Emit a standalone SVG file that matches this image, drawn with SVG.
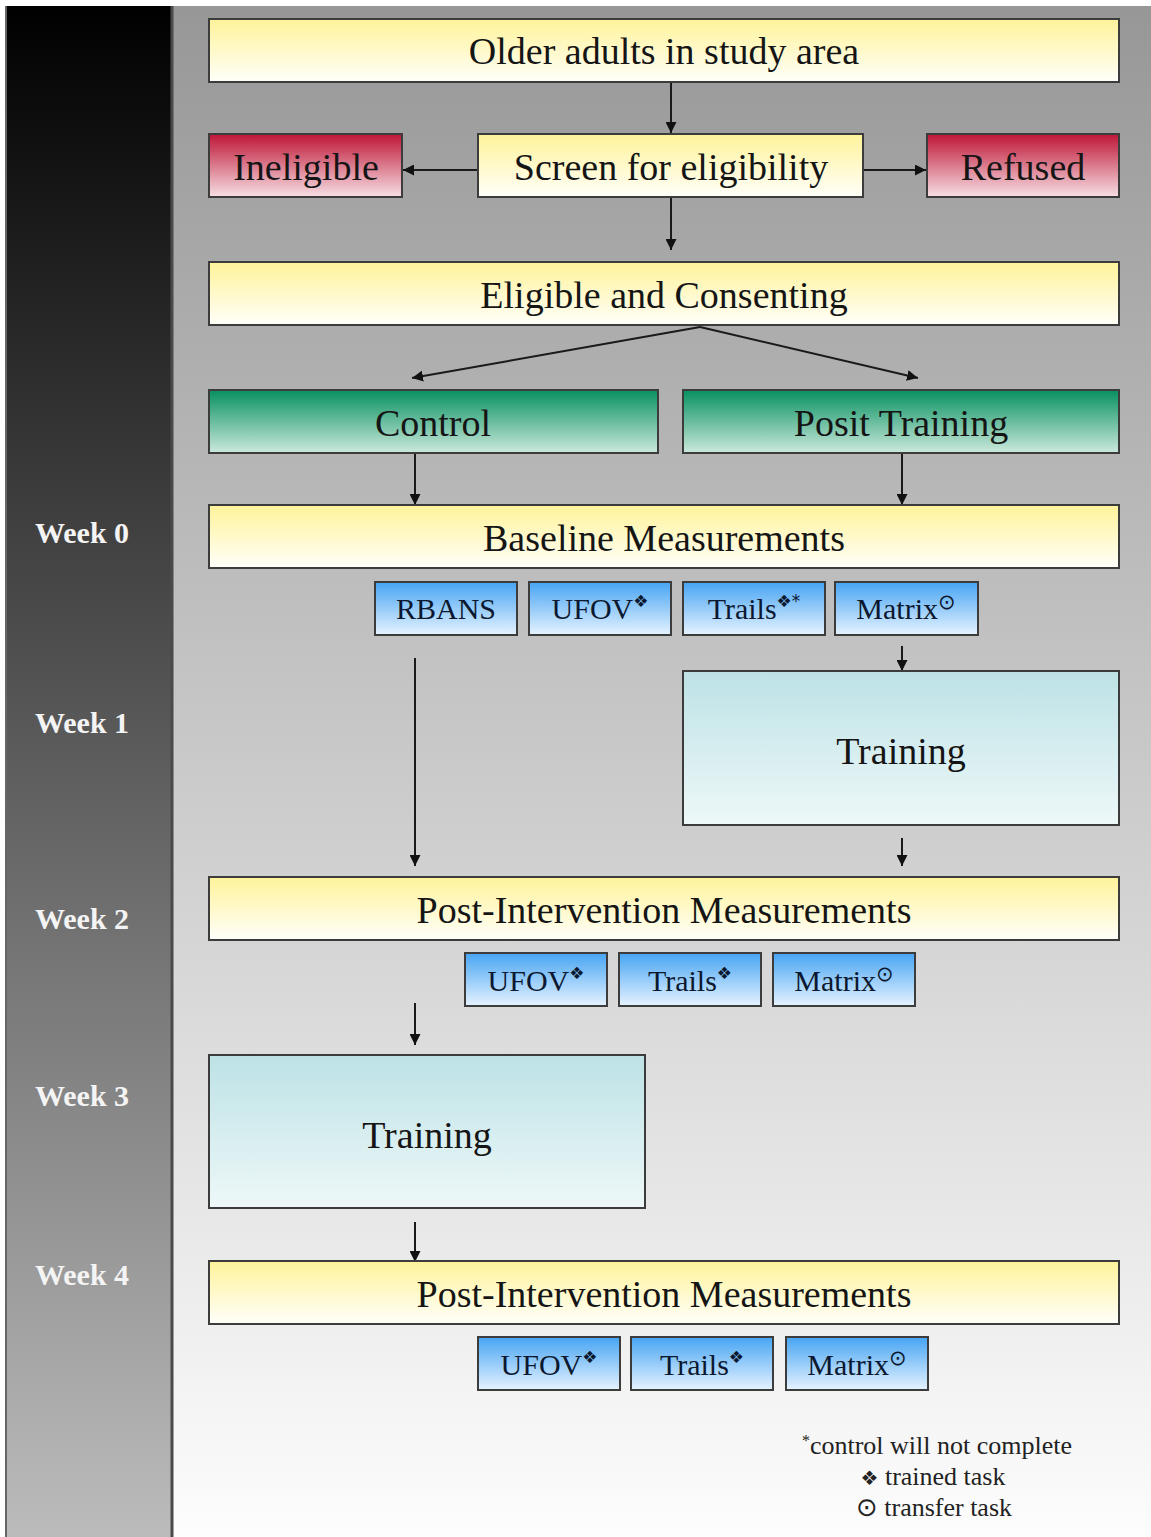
<svg xmlns="http://www.w3.org/2000/svg" width="1151" height="1537" viewBox="0 0 1151 1537">
<defs>
<linearGradient id="gLeft" x1="0" y1="0" x2="0" y2="1"><stop offset="0" stop-color="#000"/><stop offset="1" stop-color="#bcbcbc"/></linearGradient>
<linearGradient id="gRight" x1="0" y1="0" x2="0" y2="1"><stop offset="0" stop-color="#979797"/><stop offset="1" stop-color="#fdfdfd"/></linearGradient>
<linearGradient id="gY" x1="0" y1="0" x2="0" y2="1"><stop offset="0" stop-color="#fff39a"/><stop offset="1" stop-color="#fffffa"/></linearGradient>
<linearGradient id="gR" x1="0" y1="0" x2="0" y2="1"><stop offset="0" stop-color="#be1536"/><stop offset="1" stop-color="#f7dfe4"/></linearGradient>
<linearGradient id="gG" x1="0" y1="0" x2="0" y2="1"><stop offset="0" stop-color="#079160"/><stop offset="1" stop-color="#cbe9dc"/></linearGradient>
<linearGradient id="gB" x1="0" y1="0" x2="0" y2="1"><stop offset="0" stop-color="#46a4f3"/><stop offset="1" stop-color="#e6f3ff"/></linearGradient>
<linearGradient id="gT" x1="0" y1="0" x2="0" y2="1"><stop offset="0" stop-color="#bde2e6"/><stop offset="1" stop-color="#eef8f8"/></linearGradient>
<marker id="ah" viewBox="0 0 10 10" refX="10" refY="5" markerWidth="11" markerHeight="11" markerUnits="userSpaceOnUse" orient="auto"><path d="M0,0 L10,5 L0,10 z" fill="#111"/></marker>
</defs>
<style>
.box{stroke:#3c3c3c;stroke-width:2}
.t{font-family:"Liberation Serif","Times New Roman",serif;font-size:38px;fill:#151515;text-anchor:middle}
.tb{font-family:"Liberation Serif","Times New Roman",serif;font-size:30px;fill:#0c1830;text-anchor:middle}
.sup{font-family:"DejaVu Sans",sans-serif;font-size:17px}
.sc{font-family:"DejaVu Sans",sans-serif;font-size:21px}
.wk{font-family:"Liberation Serif","Times New Roman",serif;font-size:30px;font-weight:bold;fill:#f4f4f4;text-anchor:middle}
.lg{font-family:"Liberation Serif","Times New Roman",serif;font-size:26px;fill:#222;text-anchor:middle}
.c{stroke:#1a1a1a;stroke-width:2;fill:none;marker-end:url(#ah)}
</style>
<rect x="0" y="0" width="1151" height="1537" fill="#fff"/>
<rect x="5" y="6" width="168" height="1531" fill="url(#gLeft)"/>
<rect x="173" y="6" width="978" height="1531" fill="url(#gRight)"/>
<line x1="172" y1="6" x2="172" y2="1537" stroke="#4a4a4a" stroke-width="3"/>
<line x1="6" y1="6" x2="6" y2="1537" stroke="#666" stroke-width="2"/>

<g id="weeks">
<text class="wk" x="82" y="543">Week 0</text>
<text class="wk" x="82" y="733">Week 1</text>
<text class="wk" x="82" y="929">Week 2</text>
<text class="wk" x="82" y="1106">Week 3</text>
<text class="wk" x="82" y="1285">Week 4</text>
</g>

<g id="connectors">
<line class="c" x1="671" y1="83" x2="671" y2="133"/>
<line class="c" x1="478" y1="170" x2="403" y2="170"/>
<line class="c" x1="863" y1="170" x2="926" y2="170"/>
<line class="c" x1="671" y1="198" x2="671" y2="250"/>
<line class="c" x1="700" y1="327" x2="412" y2="378"/>
<line class="c" x1="700" y1="327" x2="918" y2="378"/>
<line class="c" x1="415" y1="454" x2="415" y2="505"/>
<line class="c" x1="902" y1="454" x2="902" y2="505"/>
<line class="c" x1="415" y1="658" x2="415" y2="866"/>
<line class="c" x1="902" y1="646" x2="902" y2="671"/>
<line class="c" x1="902" y1="838" x2="902" y2="866"/>
<line class="c" x1="415" y1="1003" x2="415" y2="1045"/>
<line class="c" x1="415" y1="1222" x2="415" y2="1262"/>
</g>

<g id="n-older"><rect class="box" x="209" y="19" width="910" height="63" fill="url(#gY)"/><text class="t" x="664" y="64">Older adults in study area</text></g>
<g id="n-ineligible"><rect class="box" x="209" y="134" width="193" height="63" fill="url(#gR)"/><text class="t" x="306" y="180">Ineligible</text></g>
<g id="n-screen"><rect class="box" x="478" y="134" width="385" height="63" fill="url(#gY)"/><text class="t" x="671" y="180">Screen for eligibility</text></g>
<g id="n-refused"><rect class="box" x="927" y="134" width="192" height="63" fill="url(#gR)"/><text class="t" x="1023" y="180">Refused</text></g>
<g id="n-eligible"><rect class="box" x="209" y="262" width="910" height="63" fill="url(#gY)"/><text class="t" x="664" y="308">Eligible and Consenting</text></g>
<g id="n-control"><rect class="box" x="209" y="390" width="449" height="63" fill="url(#gG)"/><text class="t" x="433" y="436">Control</text></g>
<g id="n-posit"><rect class="box" x="683" y="390" width="436" height="63" fill="url(#gG)"/><text class="t" x="901" y="436">Posit Training</text></g>
<g id="n-baseline"><rect class="box" x="209" y="505" width="910" height="63" fill="url(#gY)"/><text class="t" x="664" y="551">Baseline Measurements</text></g>

<g id="n-b-rbans"><rect class="box" x="375" y="582" width="142" height="53" fill="url(#gB)"/><text class="tb" x="446" y="619">RBANS</text></g>
<g id="n-b-ufov"><rect class="box" x="529" y="582" width="142" height="53" fill="url(#gB)"/><text class="tb" x="600" y="619">UFOV<tspan class="sup" dy="-12">❖</tspan></text></g>
<g id="n-b-trails"><rect class="box" x="683" y="582" width="142" height="53" fill="url(#gB)"/><text class="tb" x="754" y="619">Trails<tspan class="sup" dy="-12">❖*</tspan></text></g>
<g id="n-b-matrix"><rect class="box" x="835" y="582" width="143" height="53" fill="url(#gB)"/><text class="tb" x="906" y="619">Matrix<tspan class="sc" dy="-10">⊙</tspan></text></g>

<g id="n-training1"><rect class="box" x="683" y="671" width="436" height="154" fill="url(#gT)"/><text class="t" x="901" y="764">Training</text></g>

<g id="n-post1"><rect class="box" x="209" y="877" width="910" height="63" fill="url(#gY)"/><text class="t" x="664" y="923">Post-Intervention Measurements</text></g>
<g id="n-p1-ufov"><rect class="box" x="465" y="953" width="142" height="53" fill="url(#gB)"/><text class="tb" x="536" y="991">UFOV<tspan class="sup" dy="-12">❖</tspan></text></g>
<g id="n-p1-trails"><rect class="box" x="619" y="953" width="142" height="53" fill="url(#gB)"/><text class="tb" x="690" y="991">Trails<tspan class="sup" dy="-12">❖</tspan></text></g>
<g id="n-p1-matrix"><rect class="box" x="773" y="953" width="142" height="53" fill="url(#gB)"/><text class="tb" x="844" y="991">Matrix<tspan class="sc" dy="-10">⊙</tspan></text></g>

<g id="n-training2"><rect class="box" x="209" y="1055" width="436" height="153" fill="url(#gT)"/><text class="t" x="427" y="1148">Training</text></g>

<g id="n-post2"><rect class="box" x="209" y="1261" width="910" height="63" fill="url(#gY)"/><text class="t" x="664" y="1307">Post-Intervention Measurements</text></g>
<g id="n-p2-ufov"><rect class="box" x="478" y="1337" width="142" height="53" fill="url(#gB)"/><text class="tb" x="549" y="1375">UFOV<tspan class="sup" dy="-12">❖</tspan></text></g>
<g id="n-p2-trails"><rect class="box" x="631" y="1337" width="142" height="53" fill="url(#gB)"/><text class="tb" x="702" y="1375">Trails<tspan class="sup" dy="-12">❖</tspan></text></g>
<g id="n-p2-matrix"><rect class="box" x="786" y="1337" width="142" height="53" fill="url(#gB)"/><text class="tb" x="857" y="1375">Matrix<tspan class="sc" dy="-10">⊙</tspan></text></g>

<g id="legend">
<text class="lg" x="937" y="1454"><tspan font-size="16" dy="-8">*</tspan><tspan dy="8">control will not complete</tspan></text>
<text class="lg" x="933" y="1485"><tspan font-family="DejaVu Sans" font-size="20">❖</tspan> trained task</text>
<text class="lg" x="934" y="1516"><tspan font-family="DejaVu Sans" font-size="26">⊙</tspan> transfer task</text>
</g>
</svg>
